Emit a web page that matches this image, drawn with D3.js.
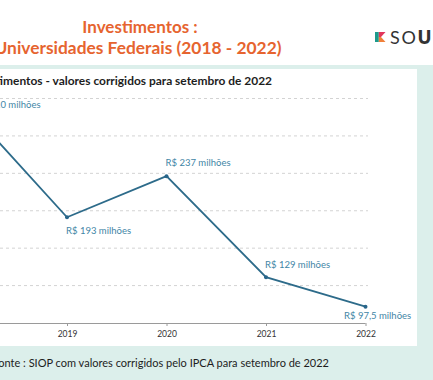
<!DOCTYPE html>
<html><head><meta charset="utf-8">
<script src="https://cdn.jsdelivr.net/npm/d3@7"></script>
<style>
html,body{margin:0;padding:0;background:#fff;overflow:hidden}
svg{display:block}
</style></head>
<body>
<svg id="c" width="433" height="380"></svg>
<script>
// ---- data ----
const years = [2018, 2019, 2020, 2021, 2022];
const values = [310, 193, 237, 129, 97.5];
const valueLabels = ["R$ 310 milhões", "R$ 193 milhões", "R$ 237 milhões", "R$ 129 milhões", "R$ 97,5 milhões"];
const tickYears = [2019, 2020, 2021, 2022];
const gridValues = [120, 160, 200, 240, 280, 320];
const titleLines = ["Investimentos :", "Universidades Federais (2018 - 2022)"];
const subtitle = "Investimentos - valores corrigidos para setembro de 2022";
const source = "Fonte : SIOP com valores corrigidos pelo IPCA para setembro de 2022";
const logoText = ["SO", "U"];

const svg = d3.select("#c");
const FONT = "Lato, 'Open Sans', sans-serif";

// backgrounds
svg.append("rect").attr("x",0).attr("y",0).attr("width",433).attr("height",380).attr("fill","#fff");
svg.append("rect").attr("x",0).attr("y",65).attr("width",433).attr("height",315).attr("fill","#dcefeb");
svg.append("rect").attr("x",-5).attr("y",69).attr("width",422).attr("height",277).attr("fill","#fff");

// title
const tt = svg.append("g").attr("font-family", FONT).attr("font-weight", 700).attr("fill", "#e6642f").attr("text-anchor","middle");
tt.append("text").attr("x",140).attr("y",33).attr("font-size",17).text(titleLines[0]);
tt.append("text").attr("x",138).attr("y",54).attr("font-size",17).text(titleLines[1])
  .attr("textLength",287).attr("lengthAdjust","spacingAndGlyphs");

// logo
const logo = svg.append("g").attr("transform","translate(375,32)");
logo.append("path").attr("d","M0,0 L3.8,0 L3.8,10 L0,10 Z").attr("fill","#1c9a8c");
logo.append("path").attr("d","M3.8,0 L10.5,0 L6,5 L3.8,5 Z").attr("fill","#e2365b");
logo.append("path").attr("d","M3.8,5 L6,5 L10.5,10 L3.8,10 Z").attr("fill","#f0803a");
const lt = svg.append("text").attr("x",390).attr("y",43.5).attr("font-family",FONT).attr("font-size",18)
  .attr("letter-spacing",1.8).attr("fill","#333");
lt.append("tspan").text(logoText[0]);
lt.append("tspan").attr("font-weight",800).text(logoText[1]);

// subtitle
svg.append("text").attr("x",272).attr("y",84.5).attr("text-anchor","end")
  .attr("font-family",FONT).attr("font-weight",700).attr("font-size",11.95).attr("fill","#1d1d1d").text(subtitle);

// scales
const x = d3.scaleLinear().domain([2018, 2022]).range([-32.5, 365.5]);
const y = d3.scaleLinear().domain([80, 320]).range([323, 98.5]);

// grid
svg.append("g").selectAll("line").data(gridValues).join("line")
  .attr("x1",0).attr("x2",368).attr("y1",d=>y(d)).attr("y2",d=>y(d))
  .attr("stroke","#d3d3d3").attr("stroke-width",1).attr("stroke-dasharray","3,3");

// x axis
const xAxis = d3.axisBottom(x).tickValues(tickYears).tickFormat(d3.format("d")).tickSize(3).tickPadding(5);
const ax = svg.append("g").attr("transform",`translate(0,${y(80)})`).call(xAxis);
ax.select(".domain").attr("d",`M-40,0.5H${x(2022)}`).attr("stroke","#9a9a9a");
ax.selectAll(".tick line").attr("stroke","#9a9a9a");
ax.selectAll(".tick text").attr("font-family",FONT).attr("font-size",8.5).attr("fill","#333");

// line
const pts = years.map((yr,i)=>({yr, v:values[i], lab:valueLabels[i]}));
svg.append("path").datum(pts)
  .attr("d", d3.line().x(d=>x(d.yr)).y(d=>y(d.v)))
  .attr("fill","none").attr("stroke","#2d6b8a").attr("stroke-width",1.8);
svg.append("g").selectAll("circle").data(pts).join("circle")
  .attr("cx",d=>x(d.yr)).attr("cy",d=>y(d.v)).attr("r",2).attr("fill","#28658a");

// value labels
const place = {2018:[8,0], 2019:[-1,17], 2020:[-1,-10], 2021:[-1,-9], 2022:[-21.5,12.5]};
svg.append("g").selectAll("text").data(pts).join("text")
  .attr("x",d=>x(d.yr)+place[d.yr][0]).attr("y",d=>y(d.v)+place[d.yr][1])
  .attr("font-family",FONT).attr("font-size",9.5).attr("fill","#3f86a6").text(d=>d.lab);

// source
svg.append("text").attr("x",329).attr("y",367).attr("text-anchor","end")
  .attr("font-family",FONT).attr("font-size",11).attr("fill","#1d1d1d").text(source);
</script>
</body></html>
